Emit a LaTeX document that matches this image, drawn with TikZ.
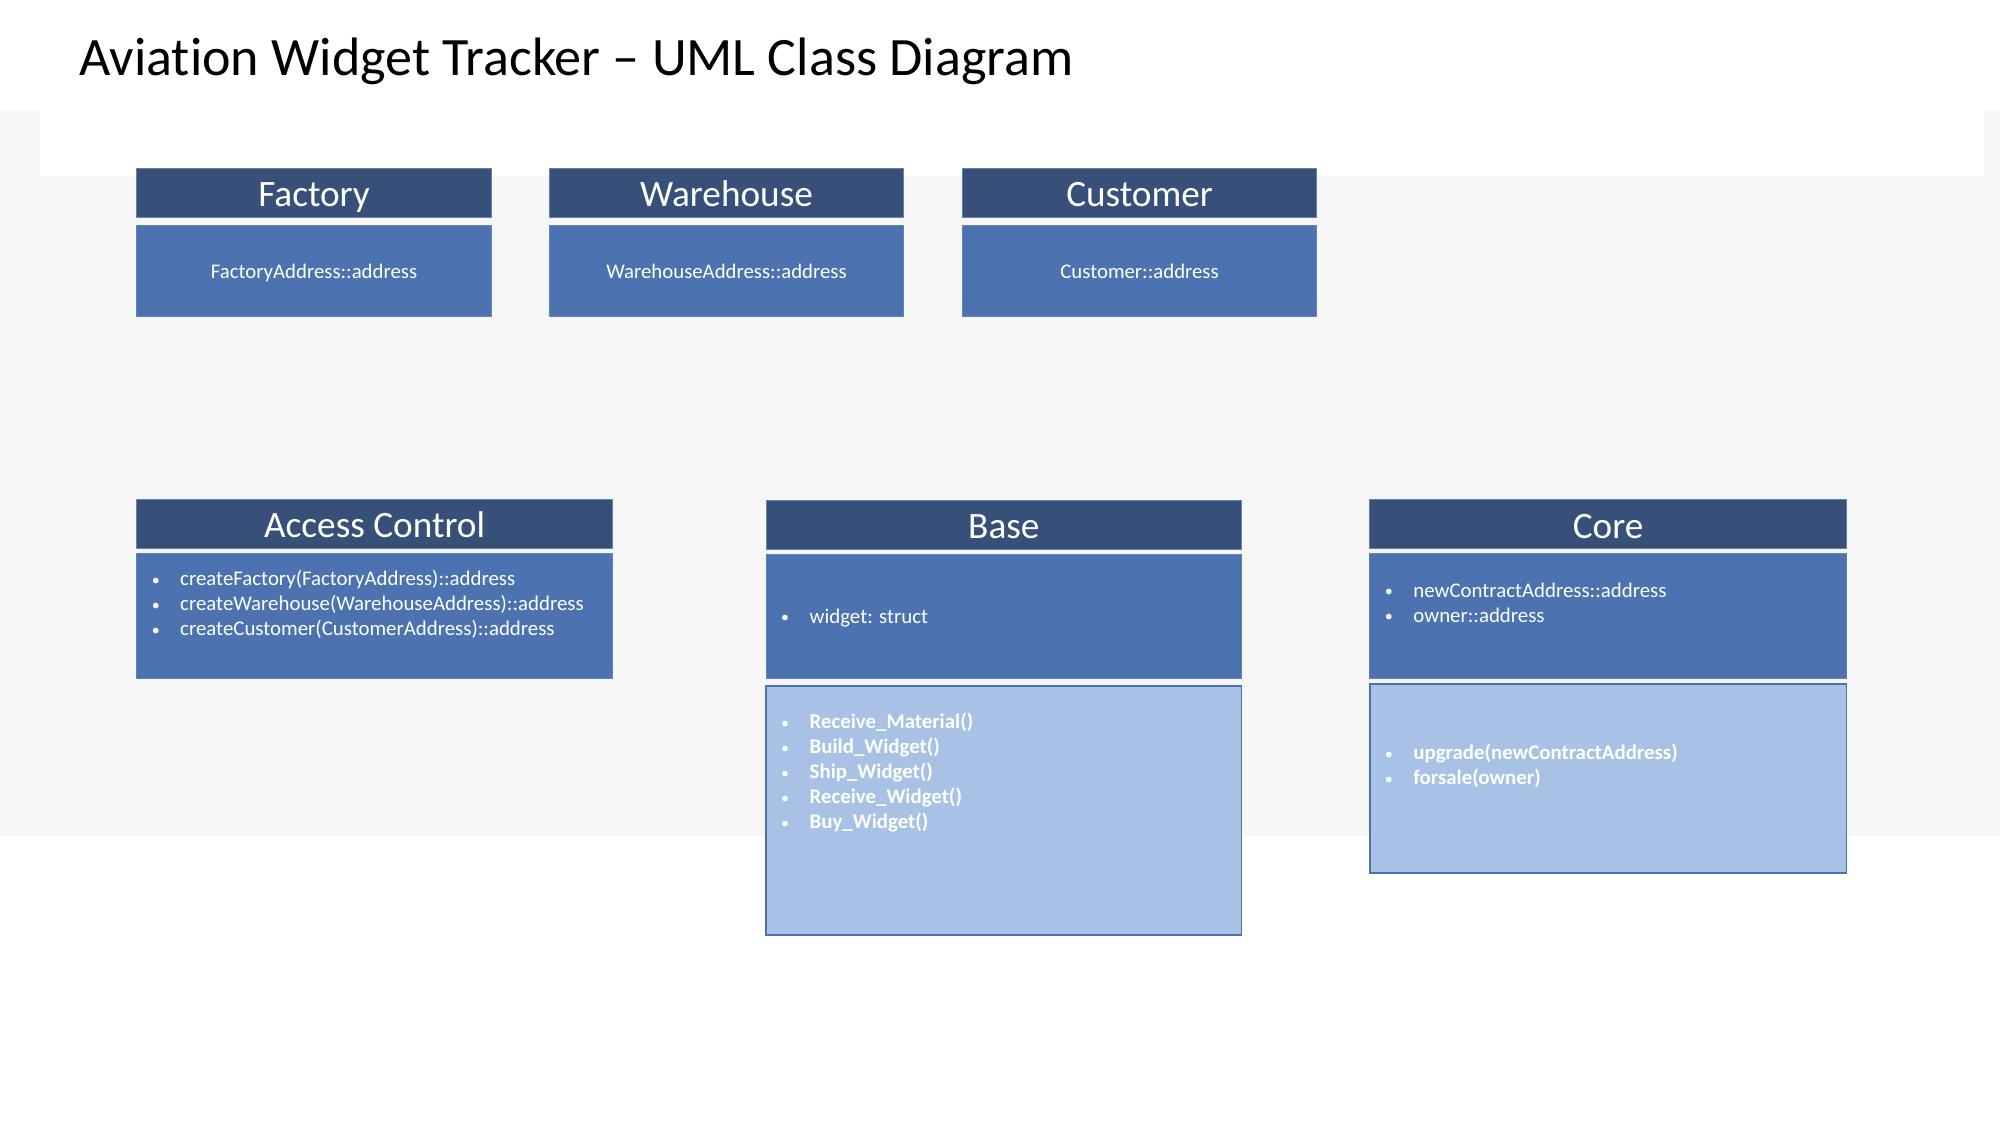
\documentclass[tikz,border=0pt]{standalone}
\usepackage{fontspec}
\setmainfont{Carlito}[Ligatures={NoCommon,TeX}]
\definecolor{hdrfill}{RGB}{55,80,122}
\definecolor{hdrline}{RGB}{98,128,178}
\definecolor{midfill}{RGB}{76,115,176}
\definecolor{midline}{RGB}{96,132,192}
\definecolor{lightfill}{RGB}{168,194,229}
\definecolor{lightline}{RGB}{80,112,168}
\definecolor{paperfill}{RGB}{246,246,246}
\tikzset{
  boxbase/.style={rectangle, inner sep=0pt, outer sep=0pt, anchor=north west},
  hdrbox/.style={boxbase, fill=hdrfill, draw=hdrline, line width=0.8pt},
  midbox/.style={boxbase, fill=midfill, draw=midline, line width=0.8pt},
  lightbox/.style={boxbase, fill=lightfill, draw=lightline, line width=1.3pt},
  hdrtxt/.style={anchor=base, inner sep=0pt, text=white, font=\fontsize{29.2}{34}\selectfont},
  attrtxt/.style={anchor=base, inner sep=0pt, text=white, font=\fontsize{16.3}{19.6}\selectfont},
  itemtxt/.style={anchor=base west, inner sep=0pt, text=white, font=\fontsize{16.35}{19.6}\selectfont},
  bolditem/.style={itemtxt, font=\fontsize{16.35}{19.6}\selectfont\bfseries},
  bulletmark/.style={anchor=base, inner sep=0pt, text=white, font=\fontsize{12.5}{15}\selectfont}
}
\begin{document}
\begin{tikzpicture}[x=1pt,y=-1pt]
\useasboundingbox (0,0) rectangle (1568,882);
% background
\fill[white] (0,0) rectangle (1568,882);
\fill[paperfill] (0,86.2) rectangle (1568,655.4);
\fill[white] (31.4,86.2) rectangle (1555.5,137.7);
% title
\node[anchor=base west, inner sep=0pt, font=\fontsize{42.4}{50}\selectfont] (title) at (62,59.5) {Aviation Widget Tracker – UML Class Diagram};

% Factory
\node[hdrbox, minimum width=277.7pt, minimum height=38.4pt] (facH) at (107.3,132) {};
\node[midbox, minimum width=277.7pt, minimum height=71.3pt] (facB) at (107.3,177) {};
\node[hdrtxt] (facT) at (246.2,161.7) {Factory};
\node[attrtxt] (facA) at (246.2,218) {FactoryAddress::address};

% Warehouse
\node[hdrbox, minimum width=277.7pt, minimum height=38.4pt] (whH) at (430.7,132) {};
\node[midbox, minimum width=277.7pt, minimum height=71.3pt] (whB) at (430.7,177) {};
\node[hdrtxt] (whT) at (569.6,161.7) {Warehouse};
\node[attrtxt] (whA) at (569.6,218) {WarehouseAddress::address};

% Customer
\node[hdrbox, minimum width=277.8pt, minimum height=38.4pt] (cuH) at (754.5,132) {};
\node[midbox, minimum width=277.8pt, minimum height=71.3pt] (cuB) at (754.5,177) {};
\node[hdrtxt] (cuT) at (893.4,161.7) {Customer};
\node[attrtxt] (cuA) at (893.4,218) {Customer::address};

% Access Control
\node[hdrbox, minimum width=373.1pt, minimum height=38.7pt] (acH) at (107.1,391.5) {};
\node[midbox, minimum width=373.1pt, minimum height=98pt] (acB) at (107.1,433.8) {};
\node[hdrtxt] (acT) at (293.7,421.6) {Access Control};
\node[bulletmark] (acb1) at (122.1,458.7) {•};
\node[bulletmark] (acb2) at (122.1,478.3) {•};
\node[bulletmark] (acb3) at (122.1,497.9) {•};
\node[itemtxt] (aci1) at (141.1,459.2) {createFactory(FactoryAddress)::address};
\node[itemtxt] (aci2) at (141.1,478.8) {createWarehouse(WarehouseAddress)::address};
\node[itemtxt] (aci3) at (141.1,498.4) {createCustomer(CustomerAddress)::address};

% Base
\node[hdrbox, minimum width=372.7pt, minimum height=38.2pt] (baH) at (600.6,392.5) {};
\node[midbox, minimum width=372.7pt, minimum height=97.9pt] (baB) at (600.6,434.4) {};
\node[lightbox, minimum width=372.7pt, minimum height=195.1pt] (baM) at (600.6,537.9) {};
\node[hdrtxt] (baT) at (787,422.3) {Base};
\node[bulletmark] (bab0) at (615.6,488.2) {•};
\node[itemtxt] (bai0) at (634.6,488.7) {widget: struct};
\node[bulletmark] (bab1) at (615.6,571) {•};
\node[bulletmark] (bab2) at (615.6,590.6) {•};
\node[bulletmark] (bab3) at (615.6,610.2) {•};
\node[bulletmark] (bab4) at (615.6,629.8) {•};
\node[bulletmark] (bab5) at (615.6,649.4) {•};
\node[bolditem] (bai1) at (634.6,571.5) {Receive\_Material()};
\node[bolditem] (bai2) at (634.6,591.1) {Build\_Widget()};
\node[bolditem] (bai3) at (634.6,610.7) {Ship\_Widget()};
\node[bolditem] (bai4) at (634.6,630.3) {Receive\_Widget()};
\node[bolditem] (bai5) at (634.6,649.9) {Buy\_Widget()};

% Core
\node[hdrbox, minimum width=373.7pt, minimum height=38.7pt] (coH) at (1073.9,391.5) {};
\node[midbox, minimum width=373.7pt, minimum height=97.9pt] (coB) at (1073.9,434) {};
\node[lightbox, minimum width=373.7pt, minimum height=147.7pt] (coM) at (1073.9,536.5) {};
\node[hdrtxt] (coT) at (1260.7,421.8) {Core};
\node[bulletmark] (cob1) at (1088.9,467.8) {•};
\node[bulletmark] (cob2) at (1088.9,487.4) {•};
\node[itemtxt] (coi1) at (1107.9,468.3) {newContractAddress::address};
\node[itemtxt] (coi2) at (1107.9,487.9) {owner::address};
\node[bulletmark] (cob3) at (1088.9,595.3) {•};
\node[bulletmark] (cob4) at (1088.9,614.9) {•};
\node[bolditem] (coi3) at (1107.9,595.8) {upgrade(newContractAddress)};
\node[bolditem] (coi4) at (1107.9,615.4) {forsale(owner)};
\end{tikzpicture}
\end{document}
